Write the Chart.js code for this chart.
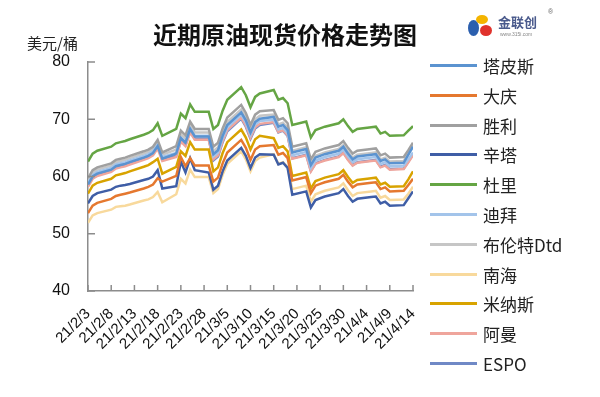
<!DOCTYPE html>
<html>
<head>
<meta charset="utf-8">
<script src="https://cdn.jsdelivr.net/npm/chart.js@4.4.0/dist/chart.umd.min.js"></script>
<style>
    body { margin: 0; background: #fff; }
    #wrap { position: relative; width: 600px; height: 397px; font-family: "Liberation Sans", "Noto Sans CJK SC", sans-serif; }
    #title { position: absolute; left: 0; width: 570px; top: 16px; text-align: center; font: bold 24px "Noto Sans CJK SC", sans-serif; color: #111; }
    #unit { position: absolute; left: 27px; top: 32px; font: 15px "Noto Sans CJK SC", sans-serif; color: #222; }
    #logo { position: absolute; left: 466px; top: 12px; width: 110px; height: 30px; }
    #logo .blob { position: absolute; border-radius: 50%; }
    #logo .name { position: absolute; left: 32px; top: 0; font: bold 13px "Noto Sans CJK SC", sans-serif; color: #4a5a8c; }
    #logo .reg { position: absolute; left: 82px; top: -4px; font: 7px "Liberation Sans"; color: #666; }
    #logo .url { position: absolute; left: 34px; top: 19px; font: 5px "Liberation Sans"; color: #888; }
    #legend { position: absolute; left: 0; top: 0; }
    .item { position: absolute; left: 430px; height: 20px; }
    .item .swatch { position: absolute; left: 0; top: 9px; width: 47px; height: 3px; }
    .item .lbl { position: absolute; left: 53px; top: -2px; font: 17px "Noto Sans CJK SC", sans-serif; color: #222; white-space: nowrap; }
</style>
</head>
<body>
<div id="wrap">
    <canvas id="oilChart" width="600" height="397"></canvas>
    <div id="title">近期原油现货价格走势图</div>
    <div id="unit">美元/桶</div>
    <div id="logo">
        <div class="blob" style="left:2px;top:8px;width:11px;height:16px;background:#2b5fae;"></div>
        <div class="blob" style="left:10px;top:3px;width:12px;height:9px;background:#f4b400;"></div>
        <div class="blob" style="left:14px;top:13px;width:12px;height:11px;background:#e0322c;"></div>
        <div class="name">金联创</div>
        <div class="reg">®</div>
        <div class="url">www.315i.com</div>
    </div>
    <div id="legend"></div>
</div>
<script>
// trading days (2021)
const tradeDays = ['2/3','2/4','2/5','2/8','2/9','2/10','2/11','2/12','2/15','2/16','2/17','2/18','2/19',
    '2/22','2/23','2/24','2/25','2/26','3/1','3/2','3/3','3/4','3/5','3/8','3/9','3/10','3/11','3/12',
    '3/15','3/16','3/17','3/18','3/19','3/22','3/23','3/24','3/25','3/26','3/29','3/30','3/31','4/1','4/2',
    '4/5','4/6','4/7','4/8','4/9','4/12','4/13','4/14'];

const xTickLabels = ['21/2/3','21/2/8','21/2/13','21/2/18','21/2/23','21/2/28','21/3/5','21/3/10',
    '21/3/15','21/3/20','21/3/25','21/3/30','21/4/4','21/4/9','21/4/14'];

const seriesNames = ['塔皮斯','大庆','胜利','辛塔','杜里','迪拜','布伦特Dtd','南海','米纳斯','阿曼','ESPO'];
const seriesColors = ['#5b93d0','#e5782f','#a0a0a0','#3f5ea6','#65a544','#a3c4ea','#c6c6c6','#f8d99c','#d8a300','#efa59c','#7089c6'];

const tapis  = [58.6,60.0,60.5,61.2,61.8,62.0,62.2,62.5,63.3,63.6,64.1,65.3,63.1, 64.0,66.7,65.9,68.3,67.0,67.0, 63.9,64.6,67.1,69.0,71.2,69.8,67.7,69.5,70.1, 70.4,68.7,69.0,68.1, 64.2,64.8,62.0,63.3,63.6,63.9,64.5,65.2,64.0,63.0,63.5,63.8,63.9,62.7,63.0,62.3,62.4,63.8,65.2];
const daqing = [53.6,54.9,55.4,56.1,56.6,56.8,57.0,57.2,57.9,58.2,58.6,59.7,59.1, 60.1,63.4,61.8,63.2,61.9,61.9, 59.1,59.8,62.3,64.2,66.4,65.0,62.9,64.7,65.3, 65.5,63.8,64.1,63.2, 59.3,59.9,57.1,58.4,58.7,59.0,59.6,60.3,59.1,58.1,58.6,58.9,59.0,57.8,58.1,57.4,57.5,58.5,59.6];
const shengli= [59.7,61.1,61.6,62.3,62.9,63.1,63.3,63.6,64.4,64.7,65.2,66.4,64.2, 65.3,68.0,67.2,69.6,68.3,68.3, 65.2,65.9,68.4,70.3,72.5,71.1,69.0,70.8,71.4, 71.6,69.9,70.2,69.3, 65.2,65.8,63.0,64.3,64.6,64.9,65.5,66.2,65.0,64.0,64.5,64.8,64.9,63.7,64.0,63.3,63.4,64.6,65.9];
const sinta  = [55.3,56.6,57.1,57.7,58.2,58.4,58.5,58.7,59.4,59.6,60.0,61.1,57.9, 58.3,62.6,60.7,63.2,61.1,60.7, 57.7,58.4,60.9,62.8,65.0,63.6,61.5,63.3,63.9, 63.8,62.1,62.4,61.5, 56.8,57.4,54.6,55.9,56.2,56.5,57.1,57.8,56.6,55.6,56.1,56.4,56.5,55.3,55.6,54.9,55.0,56.2,57.4];
const duri   = [62.6,64.0,64.5,65.2,65.8,66.0,66.2,66.5,67.3,67.6,68.1,69.3,67.1, 68.3,71.0,70.2,72.6,71.3,71.3, 68.3,69.0,71.5,73.4,75.6,74.2,72.1,73.9,74.5, 75.1,73.4,73.7,72.8, 69.0,69.6,66.8,68.1,68.4,68.7,69.3,70.0,68.8,67.8,68.3,68.6,68.7,67.5,67.8,67.1,67.2,68.0,68.8];
const dubai  = [58.9,60.3,60.8,61.5,62.1,62.3,62.5,62.8,63.6,63.9,64.4,65.6,63.4, 64.1,66.8,66.0,68.4,67.1,67.1, 63.5,64.2,66.7,68.6,70.8,69.4,67.3,69.1,69.7, 69.9,68.2,68.5,67.6, 63.7,64.3,61.5,62.8,63.1,63.4,64.0,64.7,63.5,62.5,63.0,63.3,63.4,62.2,62.5,61.8,61.9,63.0,64.2];
const brent  = [59.3,60.7,61.2,61.9,62.5,62.7,62.9,63.2,64.0,64.3,64.8,66.0,63.8, 64.7,67.4,66.6,69.0,67.7,67.7, 64.4,65.1,67.6,69.5,71.7,70.3,68.2,70.0,70.6, 70.8,69.1,69.4,68.5, 64.5,65.1,62.3,63.6,63.9,64.2,64.8,65.5,64.3,63.3,63.8,64.1,64.2,63.0,63.3,62.6,62.7,64.0,65.5];
const nanhai = [51.9,53.2,53.6,54.2,54.7,54.8,54.9,55.1,55.8,56.0,56.4,57.3,55.5, 56.9,59.6,58.8,61.2,59.9,59.9, 57.1,57.8,60.3,62.2,64.4,63.0,60.9,62.7,63.3, 63.9,62.2,62.5,61.6, 57.8,58.4,55.6,56.9,57.2,57.5,58.1,58.8,57.6,56.6,57.1,57.4,57.5,56.3,56.6,55.9,56.0,57.0,58.2];
const minas  = [57.0,58.4,58.9,59.6,60.2,60.4,60.6,60.9,61.7,62.0,62.5,63.1,60.5, 61.7,64.4,63.6,66.0,64.7,64.7, 60.9,61.6,64.1,66.0,68.2,66.8,64.7,66.5,67.1, 66.7,65.0,65.3,64.4, 60.1,60.7,57.9,59.2,59.5,59.8,60.4,61.1,59.9,58.9,59.4,59.7,59.8,58.6,58.9,58.2,58.3,59.5,60.9];
const oman   = [58.2,59.6,60.1,60.8,61.4,61.6,61.8,62.1,62.9,63.2,63.7,64.9,62.7, 63.4,66.1,65.3,67.7,66.4,66.4, 63.0,63.7,66.2,68.1,70.3,68.9,66.8,68.6,69.2, 69.5,67.8,68.1,67.2, 63.1,63.7,60.9,62.2,62.5,62.8,63.4,64.1,62.9,61.9,62.4,62.7,62.8,61.6,61.9,61.2,61.3,62.5,63.7];
const espo   = [58.5,59.9,60.4,61.1,61.7,61.9,62.1,62.4,63.2,63.5,64.0,65.2,63.0, 63.6,66.3,65.5,67.9,66.6,66.6, 62.8,63.5,66.0,67.9,70.1,68.7,66.6,68.4,69.0, 69.4,67.7,68.0,67.1, 63.2,63.8,61.0,62.3,62.6,62.9,63.5,64.2,63.0,62.0,62.5,62.8,62.9,61.7,62.0,61.3,61.4,62.6,63.9];

const allSeries = [tapis, daqing, shengli, sinta, duri, dubai, brent, nanhai, minas, oman, espo];

// days since 2021-02-03 for a date axis
const day0 = Date.UTC(2021, 1, 3);
function dayIndex(s) {
    const [m, d] = s.split('/').map(Number);
    return (Date.UTC(2021, m - 1, d) - day0) / 86400000;
}

const datasets = allSeries.map((vals, i) => ({
    label: seriesNames[i],
    data: vals.map((v, j) => ({ x: dayIndex(tradeDays[j]), y: v })),
    borderColor: seriesColors[i],
    backgroundColor: seriesColors[i],
    borderWidth: 2.5,
    pointRadius: 0,
    tension: 0,
    fill: false
}));

// Excel style tick marks pointing into the plot
const innerTicks = {
    id: 'innerTicks',
    afterDraw(chart) {
        const { ctx, chartArea, scales: { x, y } } = chart;
        ctx.save();
        ctx.strokeStyle = '#8c8c8c';
        ctx.lineWidth = 1.5;
        ctx.beginPath();
        x.ticks.forEach(t => {
            const px = x.getPixelForValue(t.value);
            ctx.moveTo(px, chartArea.bottom);
            ctx.lineTo(px, chartArea.bottom - 6);
        });
        y.ticks.forEach(t => {
            const py = y.getPixelForValue(t.value);
            ctx.moveTo(chartArea.left, py);
            ctx.lineTo(chartArea.left + 7, py);
        });
        ctx.stroke();
        ctx.restore();
    }
};

new Chart(document.getElementById('oilChart'), {
    type: 'line',
    data: { datasets },
    options: {
        responsive: false,
        animation: false,
        layout: { padding: { top: 62, right: 187, left: 0, bottom: 0 } },
        plugins: { legend: { display: false }, tooltip: { enabled: false } },
        scales: {
            x: {
                type: 'linear',
                min: 0,
                max: 70,
                grid: { display: false },
                border: { display: true, color: '#8c8c8c', width: 1.5 },
                afterFit: s => { s.height = 106; },
                ticks: {
                    stepSize: 5,
                    autoSkip: false,
                    minRotation: 45,
                    maxRotation: 45,
                    padding: 6,
                    color: '#111',
                    font: { family: 'Liberation Sans', size: 15 },
                    callback: v => xTickLabels[Math.round(v / 5)]
                }
            },
            y: {
                min: 40,
                max: 80,
                grid: { display: false },
                border: { display: true, color: '#8c8c8c', width: 1.5 },
                afterFit: s => { s.width = 88; },
                ticks: {
                    stepSize: 10,
                    padding: 10,
                    color: '#111',
                    font: { family: 'Liberation Sans', size: 16 }
                }
            }
        }
    },
    plugins: [innerTicks]
});

// legend on the right
const legend = document.getElementById('legend');
seriesNames.forEach((name, i) => {
    const item = document.createElement('div');
    item.className = 'item';
    item.style.top = (55 + i * 29.8) + 'px';
    item.innerHTML = '<div class="swatch" style="background:' + seriesColors[i] + '"></div><div class="lbl">' + name + '</div>';
    legend.appendChild(item);
});
</script>
</body>
</html>
